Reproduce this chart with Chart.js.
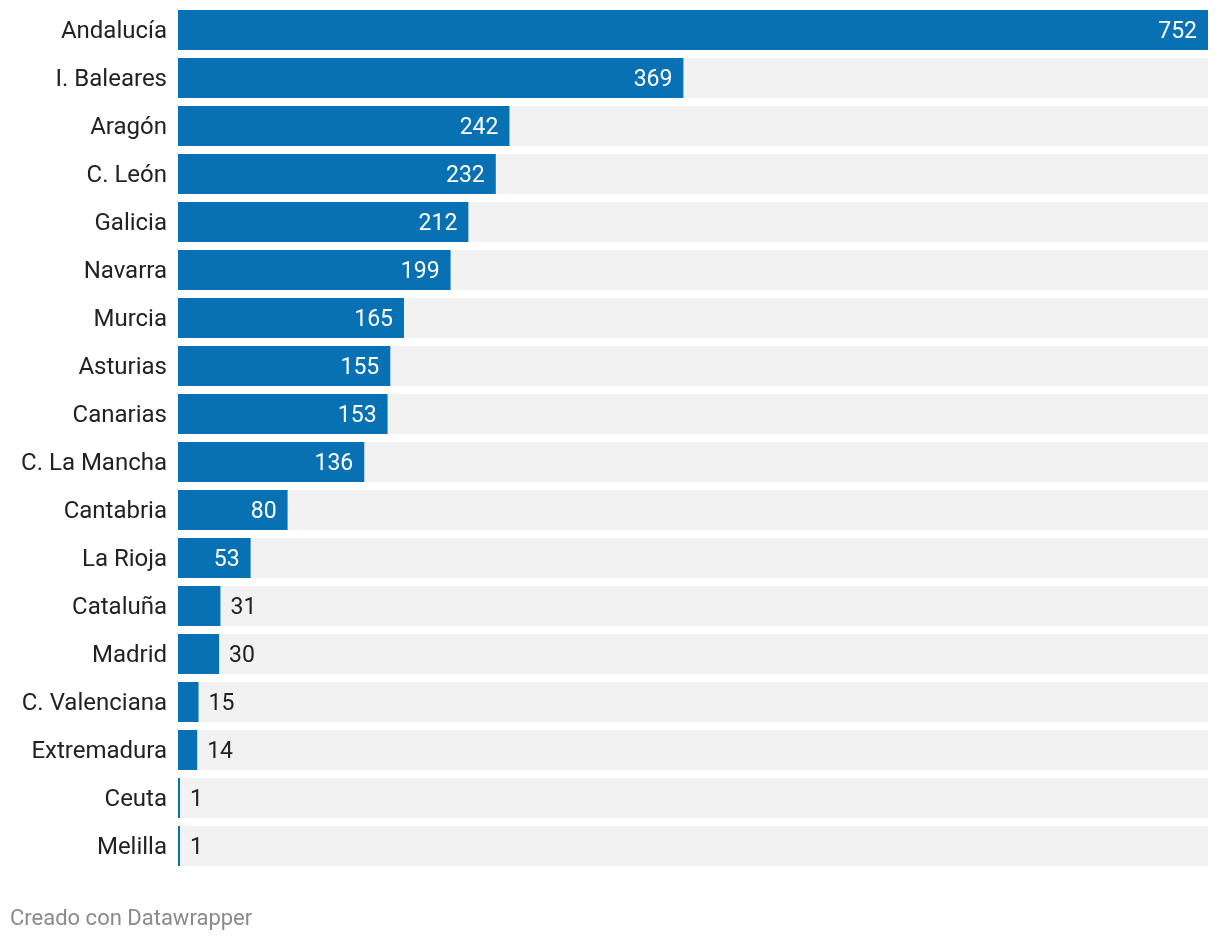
<!DOCTYPE html>
<html>
<head>
<meta charset="utf-8">
<script src="https://cdn.jsdelivr.net/npm/chart.js@4"></script>
<style>
  body { margin: 0; background: #fff; }
  canvas { display: block; }
</style>
</head>
<body>
<canvas id="chart" width="1220" height="942"></canvas>
<script>
'use strict';

const regions = ['Andalucía', 'I. Baleares', 'Aragón', 'C. León', 'Galicia', 'Navarra', 'Murcia',
  'Asturias', 'Canarias', 'C. La Mancha', 'Cantabria', 'La Rioja', 'Cataluña', 'Madrid',
  'C. Valenciana', 'Extremadura', 'Ceuta', 'Melilla'];
const counts = [752, 369, 242, 232, 212, 199, 165, 155, 153, 136, 80, 53, 31, 30, 15, 14, 1, 1];
const footerText = 'Creado con Datawrapper';

const BLUE = '#0771b3';
const TRACK = '#f2f2f2';
const FONT = 'Roboto, sans-serif';

// gray track behind every bar, full width of the plot
const trackPlugin = {
  id: 'track',
  beforeDatasetsDraw(chart) {
    const ctx = chart.ctx;
    const area = chart.chartArea;
    const meta = chart.getDatasetMeta(0);
    ctx.save();
    ctx.fillStyle = TRACK;
    meta.data.forEach(bar => {
      const h = bar.height;
      ctx.fillRect(area.left, bar.y - h / 2, area.right - area.left, h);
    });
    ctx.restore();
  }
};

// value labels, inside (white) when they fit, outside (dark) otherwise
const valuePlugin = {
  id: 'values',
  afterDatasetsDraw(chart) {
    const ctx = chart.ctx;
    const meta = chart.getDatasetMeta(0);
    ctx.save();
    ctx.font = '23px ' + FONT;
    ctx.textBaseline = 'middle';
    meta.data.forEach((bar, i) => {
      const txt = String(counts[i]);
      const w = ctx.measureText(txt).width;
      const barW = bar.x - bar.base;
      if (barW > w + 24) {
        ctx.fillStyle = '#ffffff';
        ctx.textAlign = 'right';
        ctx.fillText(txt, bar.x - 11, bar.y + 2);
      } else {
        ctx.fillStyle = '#222222';
        ctx.textAlign = 'left';
        ctx.fillText(txt, bar.x + 10, bar.y + 2);
      }
    });
    ctx.restore();
  }
};

const footerPlugin = {
  id: 'footer',
  afterDraw(chart) {
    const ctx = chart.ctx;
    ctx.save();
    ctx.font = '22px ' + FONT;
    ctx.fillStyle = '#8a8a8a';
    ctx.textAlign = 'left';
    ctx.textBaseline = 'middle';
    ctx.fillText(footerText, 10, 919);
    ctx.restore();
  }
};

function renderChart() {
  const data = {
    labels: regions,
    datasets: [{
      data: counts,
      backgroundColor: BLUE,
      borderWidth: 0,
      barPercentage: 1,
      categoryPercentage: 40 / 48,
      minBarLength: 2
    }]
  };

  const config = {
    type: 'bar',
    data: data,
    options: {
      indexAxis: 'y',
      responsive: false,
      animation: false,
      layout: { padding: { left: 0, right: 12, top: 6, bottom: 72 } },
      plugins: {
        legend: { display: false },
        tooltip: { enabled: false }
      },
      scales: {
        x: {
          min: 0,
          max: 752,
          display: false
        },
        y: {
          grid: { display: false, drawTicks: false },
          border: { display: false },
          afterFit(scale) {
            scale.width = 178;
            scale.paddingTop = 0;
            scale.paddingBottom = 0;
          },
          ticks: {
            padding: 11,
            labelOffset: 2,
            color: '#222222',
            font: { family: FONT, size: 24 }
          }
        }
      }
    },
    plugins: [trackPlugin, valuePlugin, footerPlugin]
  };

  new Chart(document.getElementById('chart'), config);
}

renderChart();
</script>
</body>
</html>
